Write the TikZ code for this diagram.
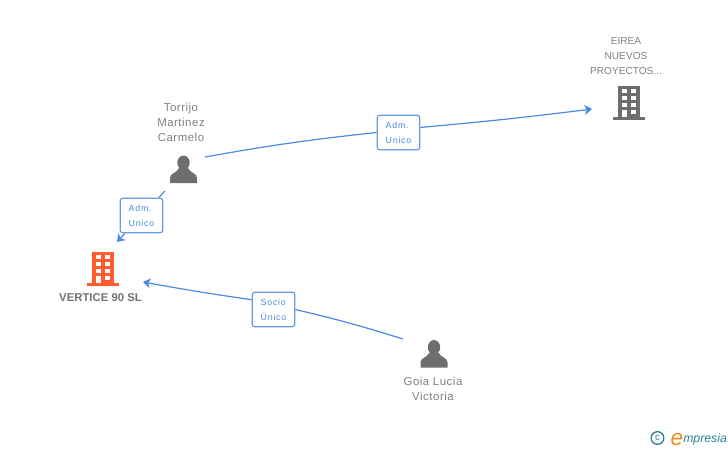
\documentclass[tikz,border=0pt]{standalone}
\usepackage{fontspec}
\usepackage{xcolor}
\usetikzlibrary{arrows.meta}
\setmainfont{Liberation Sans}
\definecolor{linkblue}{HTML}{4A8AE4}
\definecolor{iconred}{HTML}{FF5B2E}
\definecolor{icongray}{HTML}{6E6E6E}
\definecolor{textgray}{HTML}{808080}
\definecolor{logoteal}{HTML}{2F7F96}
\definecolor{logoorange}{HTML}{F08A1D}
\tikzset{
  link/.style={draw=linkblue,line width=.9pt,>={Stealth[length=5.5pt,width=7.5pt,inset=1.5pt]}},
  rolebox/.style={draw=linkblue!85,line width=.9pt,fill=white,rounded corners=2pt,
    minimum width=32pt,minimum height=26pt,inner sep=0pt,align=left,
    execute at begin node=\rule{0pt}{6.5pt},
    text=linkblue,font=\fontsize{6.6}{11.2}\selectfont\addfontfeature{LetterSpace=9}},
  partyname/.style={align=center,text=textgray,font=\fontsize{7.6}{11.2}\selectfont,inner sep=0pt},
  personname/.style={align=center,text=textgray,font=\fontsize{8.6}{11.2}\selectfont\addfontfeature{LetterSpace=4.4},inner sep=0pt},
  mainname/.style={text=textgray!90!black,font=\fontsize{8.5}{10}\selectfont\bfseries,inner sep=0pt},
  personicon/.pic={
    \fill[icongray] (0,-7.3) ellipse (6.2 and 7.2);
    \fill[icongray] (-13.5,13) -- (-13.5,8) .. controls (-13.5,3) and (-7,3.5) .. (-4.5,-2)
      -- (4.5,-2) .. controls (7,3.5) and (13.5,3) .. (13.5,8) -- (13.5,13) -- cycle;
  },
  buildingicon/.pic={
    \fill[pic actions] (-11,-16) rectangle (11,15);
    \fill[pic actions] (-16,15) rectangle (16,18);
    \foreach \wy in {-13,-6,1} {
      \fill[white] (-7,\wy) rectangle (-2.2,\wy+4.4);
      \fill[white] (2.2,\wy) rectangle (7,\wy+4.4);
    }
    \fill[white] (-7,8) rectangle (-2.2,15);
    \fill[white] (2.2,8) rectangle (7,12.4);
  }
}

\begin{document}
\begin{tikzpicture}[x=.75pt,y=-.75pt]
  \useasboundingbox (0,0) rectangle (728,450);

  \pic[fill=iconred] at (103,268) {buildingicon};
  \pic[fill=icongray] at (629,102) {buildingicon};
  \pic at (183.5,170) {personicon};
  \pic at (434,354.5) {personicon};

  \node (vertice) [mainname] at (100.5,297.5) {VERTICE 90 SL};
  \node (eirea) [partyname] at (626,56) {EIREA\\NUEVOS\\PROYECTOS...};
  \node (torrijo) [personname] at (181,122) {Torrijo\\Martinez\\Carmelo};
  \node (goia) [personname] at (433,388.5) {Goia Lucia\\Victoria};

  \node (admeirea) [rolebox] at (398.5,132.5) {Adm.\\Unico};
  \node (admvertice) [rolebox] at (141.5,215.5) {Adm.\\Unico};
  \node (socio) [rolebox] at (273.5,309.5) {Socio\\Único};

  \path (205,157) coordinate (torrijor);
  \path (165,191) coordinate (torrijob);
  \path (592,109) coordinate (eireain);
  \path (117,242) coordinate (verticein);
  \path (143,282) coordinate (verticer);
  \path (403,339) coordinate (goiaout);

  \draw[link] (torrijor) to[bend left=2] (admeirea.west);
  \draw[link,->] (admeirea.13) to[bend right=1] (eireain);
  \draw[link] (torrijob) -- (admvertice);
  \draw[link,->] (admvertice) -- (verticein);
  \draw[link] (goiaout) to[bend right=2] (socio.east);
  \draw[link,->] (socio.156) to[bend left=1] (verticer);

  \node (copyright) [draw=logoteal,line width=1pt,circle,inner sep=0pt,minimum size=9.5pt,
    text=logoteal,font=\fontsize{7.5}{7.5}\selectfont] at (657.5,438) {c};
  \node (logoe) [text=logoorange,inner sep=0pt,font=\fontsize{17}{17}\selectfont\itshape] at (677,439.5) {e};
  \node (logo) [anchor=west,text=logoteal,inner sep=0pt,font=\fontsize{9.2}{10}\selectfont\itshape] at (683,439) {mpresia};
\end{tikzpicture}
\end{document}
